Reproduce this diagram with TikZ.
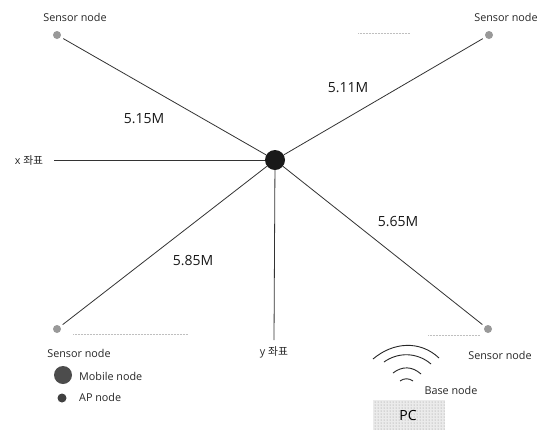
\documentclass[tikz,border=0pt]{standalone}
\usepackage{fontspec}
\setmainfont{Open Sans}
\newfontfamily\krfont{Noto Sans CJK KR}
\usetikzlibrary{patterns}
\tikzset{
  link/.style={draw=black!80,line width=0.8pt},
  sensorlink/.style={link,shorten >=3pt},
  sensor/.style={circle,inner sep=0pt,minimum size=8pt,fill=black!40},
  mobile/.style={circle,inner sep=0pt,minimum size=20pt,fill=black!90},
  legendmobile/.style={circle,inner sep=0pt,minimum size=18pt,fill=black!70},
  apnode/.style={circle,inner sep=0pt,minimum size=9pt,fill=black!75},
  small/.style={font=\fontsize{10.8}{12}\selectfont,text=black!85,inner sep=0pt},
  dist/.style={font=\fontsize{14}{16}\selectfont,text=black!90,inner sep=0pt},
  wave/.style={draw=black!85,line width=0.9pt},
  stray/.style={draw=black!25,line width=0.5pt,densely dotted},
}
\begin{document}
\begin{tikzpicture}[x=1pt,y=-1pt]
\useasboundingbox (0,0) rectangle (543,432);
\fill[white] (0,0) rectangle (543,432);
% stray scan lines
\draw[stray] (73,334) -- (188,334);
\draw[stray] (428,335) -- (480,335);
\draw[stray] (358,33) -- (410,33);
% PC block
\fill[black!8] (373,400) rectangle (445,430);
\fill[pattern=dots,pattern color=black!45] (373,400) rectangle (445,430);
% nodes
\node[mobile] (m) at (275,160) {};
\node[sensor] (tl) at (57,35) {};
\node[sensor] (tr) at (489,35) {};
\node[sensor] (bl) at (57,329) {};
\node[sensor] (br) at (488,329) {};
\coordinate (xend) at (54,160);
\coordinate (yend) at (274,340);
\draw[sensorlink] (m) -- (tl);
\draw[sensorlink] (m) -- (tr);
\draw[sensorlink] (m) -- (bl);
\draw[sensorlink] (m) -- (br);
\draw[link] (m) -- (xend);
\draw[link] (m) -- (yend);
% labels
\node[small] (ltl) at (75,17) {Sensor node};
\node[small] (ltr) at (506,17) {Sensor node};
\node[small] (lbl) at (79,353) {Sensor node};
\node[small] (lbr) at (500,355) {Sensor node};
\node[small] (lx) at (29,160) {x {\krfont 좌표}};
\node[small] (ly) at (274,352) {y {\krfont 좌표}};
\node[dist] (d1) at (144,119) {5.15M};
\node[dist] (d2) at (348,88) {5.11M};
\node[dist] (d3) at (193,261) {5.85M};
\node[dist] (d4) at (398,222) {5.65M};
% legend
\node[legendmobile] (lm) at (63,375) {};
\node[small,anchor=west] (lmt) at (79,376) {Mobile node};
\node[apnode] (la) at (62,398) {};
\node[small,anchor=west] (lat) at (79,397) {AP node};
% base station
\draw[wave] (373,359) .. controls (393,342) and (420,340) .. (439,358);
\draw[wave] (384,362) .. controls (398,352) and (417,352) .. (431,364);
\draw[wave] (393,373) .. controls (402,366) and (412,366) .. (421,374);
\draw[wave] (400,381) .. controls (404,378) and (409,378) .. (413,381);
\node[small] (base) at (451,390) {Base node};
\node[font=\fontsize{14}{16}\selectfont,text=black,inner sep=0pt] (pc) at (408,415) {PC};
\end{tikzpicture}
\end{document}
